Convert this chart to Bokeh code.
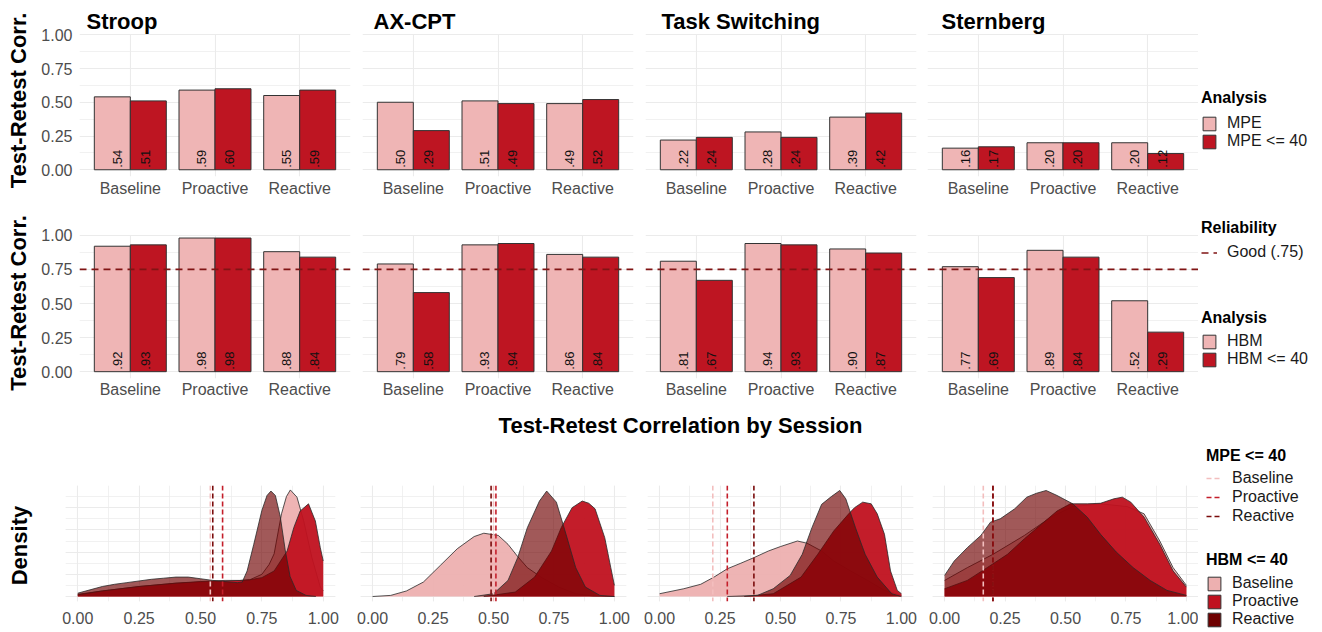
import math
from bokeh.plotting import figure
from bokeh.layouts import row, column
from bokeh.models import (FactorRange, Range1d, Span, Label, Legend, LegendItem,
                          ColumnDataSource, SingleIntervalTicker, FixedTicker, PrintfTickFormatter)
from bokeh.transform import dodge
from bokeh.core.properties import value
from bokeh.embed import file_html
from bokeh.resources import INLINE

# ---------------- data ----------------
tasks = ["Stroop", "AX-CPT", "Task Switching", "Sternberg"]
sessions = ["Baseline", "Proactive", "Reactive"]

stroop_mpe = [0.54, 0.59, 0.55]
axcpt_mpe = [0.50, 0.51, 0.49]
ts_mpe = [0.22, 0.28, 0.39]
st_mpe = [0.16, 0.20, 0.20]

stroop_mpe40 = [0.51, 0.60, 0.59]
axcpt_mpe40 = [0.29, 0.49, 0.52]
ts_mpe40 = [0.24, 0.24, 0.42]
st_mpe40 = [0.17, 0.20, 0.12]

stroop_hbm = [0.92, 0.98, 0.88]
axcpt_hbm = [0.79, 0.93, 0.86]
ts_hbm = [0.81, 0.94, 0.90]
st_hbm = [0.77, 0.89, 0.52]

stroop_hbm40 = [0.93, 0.98, 0.84]
axcpt_hbm40 = [0.58, 0.94, 0.84]
ts_hbm40 = [0.67, 0.93, 0.87]
st_hbm40 = [0.69, 0.84, 0.29]

good_reliability = 0.75
y_ticks = [0.0, 0.25, 0.50, 0.75, 1.0]
y_minor = [0.125, 0.375, 0.625, 0.875]

# density curves (relative density units)
stroop_base_x = [0.00, 0.10, 0.25, 0.40, 0.50, 0.60, 0.70, 0.75, 0.78, 0.80, 0.83, 0.85, 0.866, 0.893, 0.92, 0.954, 0.988, 1.00]
stroop_base_y = [0.20, 0.50, 0.90, 1.20, 1.30, 1.35, 1.50, 2.00, 2.90, 3.85, 7.45, 9.00, 9.60, 8.95, 6.85, 3.50, 0.85, 0.50]
stroop_pro_x = [0.00, 0.10, 0.25, 0.40, 0.50, 0.60, 0.66, 0.70, 0.75, 0.80, 0.853, 0.88, 0.906, 0.94, 0.968, 0.988, 1.00]
stroop_pro_y = [0.15, 0.50, 0.90, 1.20, 1.35, 1.45, 1.45, 1.50, 1.70, 2.30, 4.10, 6.20, 7.70, 8.35, 6.80, 4.40, 3.20]
stroop_rea_x = [0.00, 0.05, 0.10, 0.15, 0.20, 0.25, 0.30, 0.35, 0.40, 0.45, 0.50, 0.55, 0.60, 0.65, 0.67, 0.69, 0.717, 0.75, 0.771, 0.787, 0.805, 0.825, 0.845, 0.865, 0.89, 0.93, 0.97]
stroop_rea_y = [0.30, 0.60, 0.90, 1.10, 1.25, 1.40, 1.55, 1.65, 1.75, 1.75, 1.60, 1.45, 1.35, 1.25, 1.30, 2.30, 4.70, 7.75, 9.10, 9.50, 9.10, 7.20, 4.20, 1.80, 0.55, 0.10, 0.00]

axcpt_base_x = [0.00, 0.075, 0.14, 0.21, 0.28, 0.35, 0.42, 0.46, 0.52, 0.56, 0.60, 0.64, 0.70, 0.77, 0.84, 0.91, 1.00]
axcpt_base_y = [0.00, 0.10, 0.50, 1.30, 2.80, 4.30, 5.40, 5.70, 5.50, 4.70, 3.60, 2.60, 1.70, 0.85, 0.25, 0.05, 0.00]
axcpt_pro_x = [0.46, 0.59, 0.67, 0.74, 0.78, 0.825, 0.867, 0.894, 0.92, 0.96, 0.985, 1.00]
axcpt_pro_y = [0.00, 0.40, 1.75, 4.10, 6.20, 8.00, 8.60, 8.40, 7.90, 5.30, 2.60, 1.00]
axcpt_rea_x = [0.42, 0.50, 0.56, 0.60, 0.64, 0.69, 0.72, 0.76, 0.80, 0.84, 0.88, 0.94, 1.00]
axcpt_rea_y = [0.00, 0.25, 1.45, 3.50, 6.20, 8.60, 9.50, 8.50, 5.60, 2.60, 0.85, 0.10, 0.00]

ts_base_x = [0.00, 0.10, 0.17, 0.225, 0.28, 0.336, 0.39, 0.45, 0.50, 0.57, 0.61, 0.67, 0.72, 0.79, 0.86, 0.93, 1.00]
ts_base_y = [0.25, 0.70, 1.10, 1.75, 2.50, 3.00, 3.50, 4.10, 4.50, 5.00, 4.80, 4.10, 3.20, 2.30, 1.45, 0.55, 0.10]
ts_pro_x = [0.35, 0.47, 0.585, 0.654, 0.72, 0.78, 0.806, 0.84, 0.875, 0.90, 0.93, 0.955, 0.983, 1.00]
ts_pro_y = [0.00, 0.25, 1.75, 3.80, 5.90, 7.40, 8.00, 8.50, 8.35, 7.45, 5.60, 2.30, 0.55, 0.25]
ts_rea_x = [0.28, 0.405, 0.47, 0.54, 0.59, 0.63, 0.67, 0.71, 0.745, 0.77, 0.81, 0.85, 0.90, 0.96, 1.00]
ts_rea_y = [0.00, 0.10, 0.70, 1.90, 3.80, 6.20, 8.30, 9.00, 9.55, 8.80, 6.20, 3.80, 1.75, 0.25, 0.00]

st_base_x = [0.00, 0.094, 0.20, 0.33, 0.44, 0.53, 0.645, 0.755, 0.825, 0.89, 0.945, 1.00]
st_base_y = [1.45, 2.60, 3.80, 5.50, 7.15, 8.10, 8.35, 8.10, 7.45, 5.00, 2.60, 1.00]
st_pro_x = [0.00, 0.094, 0.176, 0.26, 0.33, 0.40, 0.465, 0.52, 0.59, 0.645, 0.70, 0.735, 0.77, 0.825, 0.89, 0.945, 1.00]
st_pro_y = [0.70, 1.45, 2.60, 3.80, 5.20, 6.50, 7.70, 8.35, 8.35, 8.40, 8.80, 8.95, 8.50, 7.15, 4.70, 2.30, 0.85]
st_rea_x = [0.00, 0.04, 0.094, 0.15, 0.19, 0.23, 0.29, 0.34, 0.38, 0.42, 0.465, 0.53, 0.59, 0.645, 0.71, 0.78, 0.85, 0.92, 1.00]
st_rea_y = [1.90, 3.20, 4.40, 5.50, 6.70, 7.00, 7.90, 8.95, 9.30, 9.55, 9.10, 8.35, 7.15, 5.60, 4.00, 2.60, 1.45, 0.55, 0.10]

# ---------------- style ----------------
FONT = "Liberation Sans"
PINK = "#EFB5B5"
RED = "#BE1522"
EDGE = "#333333"
GRID = "#EBEBEB"
TICK = "#4D4D4D"
REL_COLOR = "#801414"
DENS_COLORS = ["#EDB0B0", "#C0111F", "#6E0000"]
DENS_ALPHAS = [0.95, 0.95, 0.65]
VLINE_COLORS = ["#F3BEBE", "#C41E2A", "#7A0C0C"]
TITLE_OFFSETS = [7, 11, 16, 14]
BAR_W = 0.425
BAR_OFF = 0.2125
LAB_OFF = (-0.155, 0.175)


def fmt(v):
    s = "%.2f" % v
    return s[1:] if s.startswith("0") else s


def base_fig(**kw):
    p = figure(output_backend="svg", toolbar_location=None, **kw)
    p.outline_line_color = None
    p.background_fill_color = "white"
    p.border_fill_color = "white"
    return p


def style_axis(ax, standoff):
    ax.axis_line_color = None
    ax.major_tick_line_color = None
    ax.minor_tick_line_color = None
    ax.major_tick_out = 0
    ax.major_tick_in = 0
    ax.minor_tick_out = 0
    ax.minor_tick_in = 0
    ax.major_label_text_font = FONT
    ax.major_label_text_font_size = "16px"
    ax.major_label_text_color = TICK
    ax.major_label_standoff = standoff


def limit_vertical_grid(p, lo, hi):
    g = p.xgrid[0]
    try:
        g.cross_bounds = (lo, hi)
    except Exception:
        pass


def bar_panel(idx, task, vals_a, vals_b, width, bl, br, bt, bb, height, ytop, show_y, x_standoff, rel=None):
    p = base_fig(x_range=FactorRange(factors=sessions, range_padding=0.1, range_padding_units="absolute"),
                 y_range=Range1d(-0.05, ytop), width=width, height=height,
                 min_border_left=bl, min_border_right=br, min_border_top=bt, min_border_bottom=bb)
    src = ColumnDataSource(dict(session=sessions, a=vals_a, b=vals_b, zero=[0.0] * len(sessions),
                                la=[fmt(v) for v in vals_a], lb=[fmt(v) for v in vals_b]))
    p.ygrid.ticker = FixedTicker(ticks=y_ticks, minor_ticks=y_minor)
    p.ygrid.grid_line_color = GRID
    p.ygrid.grid_line_width = 1.1
    p.ygrid.minor_grid_line_color = GRID
    p.ygrid.minor_grid_line_width = 0.7
    p.xgrid.grid_line_color = GRID
    p.xgrid.grid_line_width = 1.1
    limit_vertical_grid(p, -0.05, 1.0)
    if rel is not None:
        p.add_layout(Span(location=rel, dimension="width", line_color=REL_COLOR,
                          line_dash="7 5", line_width=1.6))
    p.vbar(x=dodge("session", -BAR_OFF, range=p.x_range), top="a", width=BAR_W, source=src,
           fill_color=PINK, line_color=EDGE, line_width=1)
    p.vbar(x=dodge("session", BAR_OFF, range=p.x_range), top="b", width=BAR_W, source=src,
           fill_color=RED, line_color=EDGE, line_width=1)
    for col, off in zip(("la", "lb"), LAB_OFF):
        p.text(x=dodge("session", off, range=p.x_range), y="zero", text=col, source=src,
               angle=math.pi / 2, text_align="left", text_baseline="middle", y_offset=-2,
               text_font=value(FONT), text_font_size="13px", text_color="#111111")
    style_axis(p.xaxis[0], x_standoff)
    yax = p.yaxis[0]
    yax.ticker = FixedTicker(ticks=y_ticks, minor_ticks=y_minor)
    yax.formatter = PrintfTickFormatter(format="%.2f")
    style_axis(yax, 7)
    if not show_y:
        yax.visible = False
    if task is not None:
        p.add_layout(Label(x=-0.1, y=1.05 + 7.0 / 135.0, x_offset=TITLE_OFFSETS[idx], text=task,
                           text_align="left", text_baseline="middle",
                           text_font=FONT, text_font_size="22px", text_font_style="bold",
                           text_color="black"))
    return p


def density_panel(curves, vlines, width, bl, br, bt, bb, height):
    p = base_fig(x_range=Range1d(-0.05, 1.05), y_range=Range1d(-0.45, 10.0), width=width, height=height,
                 min_border_left=bl, min_border_right=br, min_border_top=bt, min_border_bottom=bb)
    p.xgrid.ticker = SingleIntervalTicker(interval=0.25, num_minor_ticks=2)
    p.ygrid.ticker = SingleIntervalTicker(interval=2, num_minor_ticks=2)
    for g in (p.xgrid[0], p.ygrid[0]):
        g.grid_line_color = GRID
        g.grid_line_width = 1.1
        g.minor_grid_line_color = GRID
        g.minor_grid_line_width = 0.7
    for (xs, ys), col, alpha in zip(curves, DENS_COLORS, DENS_ALPHAS):
        px = [xs[0]] + list(xs) + [xs[-1]]
        py = [0.0] + list(ys) + [0.0]
        p.patch(px, py, fill_color=col, fill_alpha=alpha, line_color=None)
        p.line(xs, ys, line_color="#2A2A2A", line_width=0.8)
    for v, col in zip(vlines, VLINE_COLORS):
        p.add_layout(Span(location=v, dimension="height", line_color=col,
                          line_dash="5 3", line_width=1.6))
    ax = p.xaxis[0]
    ax.ticker = SingleIntervalTicker(interval=0.25, num_minor_ticks=2)
    ax.formatter = PrintfTickFormatter(format="%.2f")
    style_axis(ax, 10)
    p.yaxis.visible = False
    return p


def blank_fig(width, height, left=0, top=0):
    return base_fig(width=width, height=height, x_range=Range1d(0, 1), y_range=Range1d(0, 1),
                    x_axis_type=None, y_axis_type=None, min_border=0,
                    min_border_left=left, min_border_top=top)


def side_label(width, height, text, fx, fy):
    f = blank_fig(width, height)
    f.add_layout(Label(x=fx, y=fy, text=text, angle=math.pi / 2, text_align="center",
                       text_baseline="middle", text_font=FONT, text_font_size="22px",
                       text_font_style="bold", text_color="black"))
    return column(f)


def legend_fig(width, height, left, top, title, entries, kind, glyph_h=17, spacing=0, standoff=6):
    f = blank_fig(width, height, left, top)
    items = []
    for lab, col, dash in entries:
        if kind == "box":
            r = f.vbar(x=[-5.0], top=[-5.0], width=0.5, fill_color=col, line_color=EDGE, line_width=1)
        else:
            r = f.line(x=[-6.0, -5.0], y=[-5.0, -5.0], line_color=col, line_dash=dash, line_width=1.6)
        items.append(LegendItem(label=lab, renderers=[r]))
    f.add_layout(Legend(items=items, title=title, location="top_left", orientation="vertical",
                        title_text_font=FONT, title_text_font_size="16px", title_text_font_style="bold",
                        title_text_color="black",
                        label_text_font=FONT, label_text_font_size="16px", label_text_color="#1A1A1A",
                        glyph_width=16, glyph_height=glyph_h, label_height=16, label_standoff=10,
                        spacing=spacing, padding=0, margin=0, title_standoff=standoff,
                        border_line_color=None, background_fill_alpha=0))
    return f


YLAB = "Test-Retest Corr."
row1_mpe = [stroop_mpe, axcpt_mpe, ts_mpe, st_mpe]
row1_mpe40 = [stroop_mpe40, axcpt_mpe40, ts_mpe40, st_mpe40]
row2_hbm = [stroop_hbm, axcpt_hbm, ts_hbm, st_hbm]
row2_hbm40 = [stroop_hbm40, axcpt_hbm40, ts_hbm40, st_hbm40]

geo_top = [(320, 43, 6), (283, 6, 6), (282, 6, 5), (277, 6, 0)]

# ---------------- row 1: MPE ----------------
r1 = [side_label(36, 210, YLAB, 0.503, 0.524)]
for i, t in enumerate(tasks):
    w, bl, br = geo_top[i]
    r1.append(bar_panel(i, t, row1_mpe[i], row1_mpe40[i], w, bl, br, 0, 34, 210, -0.05 + 176 / 135.0,
                        i == 0, 3))
r1.append(column(legend_fig(124, 210, 3, 89, "Analysis",
                            [("MPE", PINK, None), ("MPE <= 40", RED, None)], "box", standoff=7)))

# ---------------- row 2: HBM ----------------
r2 = [side_label(36, 198, YLAB, 0.503, 0.533)]
for i, t in enumerate(tasks):
    w, bl, br = geo_top[i]
    r2.append(bar_panel(i, None, row2_hbm[i], row2_hbm40[i], w, bl, br, 18, 30, 198, 1.05,
                        i == 0, 2, rel=good_reliability))
leg2 = column(
    legend_fig(124, 99, 3, 9, "Reliability", [("Good (.75)", REL_COLOR, "7 5")], "line", standoff=6),
    legend_fig(124, 99, 3, 0, "Analysis", [("HBM", PINK, None), ("HBM <= 40", RED, None)], "box", standoff=5),
)
r2.append(leg2)

# ---------------- title ----------------
tf = blank_fig(1322, 37)
tf.add_layout(Label(x=0.5144, y=0.54, text="Test-Retest Correlation by Session",
                    text_align="center", text_baseline="middle", text_font=FONT,
                    text_font_size="22px", text_font_style="bold", text_color="black"))

# ---------------- row 3: densities ----------------
dens = [
    [(stroop_base_x, stroop_base_y), (stroop_pro_x, stroop_pro_y), (stroop_rea_x, stroop_rea_y)],
    [(axcpt_base_x, axcpt_base_y), (axcpt_pro_x, axcpt_pro_y), (axcpt_rea_x, axcpt_rea_y)],
    [(ts_base_x, ts_base_y), (ts_pro_x, ts_pro_y), (ts_rea_x, ts_rea_y)],
    [(st_base_x, st_base_y), (st_pro_x, st_pro_y), (st_rea_x, st_rea_y)],
]
geo_bot = [(309, 29, 10), (291, 15, 10), (286, 11, 9), (276, 10, 0)]
r3 = [side_label(36, 187, "Density", 0.539, 0.465)]
for i in range(4):
    w, bl, br = geo_bot[i]
    r3.append(density_panel(dens[i], row1_mpe[i], w, bl, br, 40, 31, 187))
leg3 = column(
    legend_fig(124, 104, 8, 2, "MPE <= 40",
               [(s, c, "5 3") for s, c in zip(sessions, VLINE_COLORS)], "line",
               glyph_h=18, spacing=1, standoff=4),
    legend_fig(124, 83, 8, 2, "HBM <= 40",
               [(s, c, None) for s, c in zip(sessions, DENS_COLORS)], "box", glyph_h=17, standoff=5),
)
r3.append(leg3)

layout = column(row(*r1), row(*r2), tf, row(*r3))
open("out.html", "w").write(file_html(layout, INLINE, title="Test-Retest Correlation"))
